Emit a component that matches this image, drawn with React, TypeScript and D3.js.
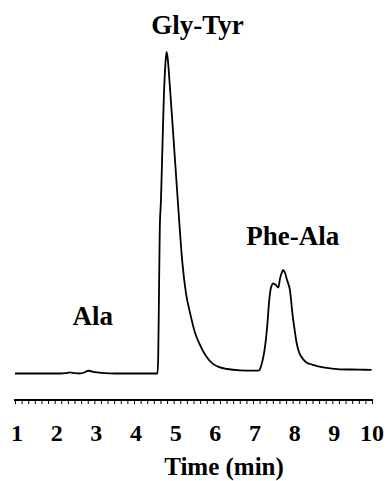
import { useEffect, useRef } from "react";
import * as d3 from "d3";

// chromatogram trace: time (min), detector signal (relative, peak = 100)
const times = [
  1.0, 2.13, 2.28, 2.385, 2.51, 2.64, 2.74, 2.85, 3.02, 3.27, 3.52, 4.59, 4.61, 4.63, 4.65,
  4.68, 4.72, 4.75, 4.79, 4.82, 4.85, 4.9, 4.98, 5.1, 5.22, 5.31, 5.41, 5.53, 5.66, 5.81,
  5.99, 6.15, 6.35, 6.67, 7.05, 7.16, 7.19, 7.24, 7.28, 7.32, 7.36, 7.41, 7.45, 7.51, 7.58,
  7.64, 7.68, 7.73, 7.76, 7.8, 7.86, 7.93, 8.0, 8.05, 8.1, 8.15, 8.22, 8.33, 8.51, 8.81,
  9.19, 9.69, 9.99,
];
const signal = [
  0, 0, 0.1, 0.35, 0.1, 0, 0.3, 0.85, 0.4, 0.1, 0, 0, 5, 25, 45,
  54, 72, 85, 96, 100, 98, 90, 76, 54.5, 34.4, 25, 19, 13, 9, 5.5,
  3.0, 2.0, 1.4, 1.0, 0.9, 1.0, 1.8, 4, 6.5, 10, 15, 22.9, 26.5, 28, 27.5,
  26.7, 29.5, 31.5, 32.2, 31.5, 29, 26, 18, 13.5, 9.5, 7, 5.2, 3.6, 2.7, 1.8,
  1.3, 1.2, 1.1,
];

const tickValues = [1, 2, 3, 4, 5, 6, 7, 8, 9, 10];
const peakNames = ["Ala", "Gly-Tyr", "Phe-Ala"];
const labelTimes = [2.96, 5.6, 8.0];
const labelSignal = [15, 105.5, 40];

export default function App() {
  const svgRef = useRef<SVGSVGElement>(null);

  useEffect(() => {
    const svg = d3.select(svgRef.current);
    svg.selectAll("*").remove();

    const width = 391,
      height = 481;
    const axisY = 400;

    const x = d3.scaleLinear().domain([1, 10]).range([15, 372]);
    const y = d3.scaleLinear().domain([0, 100]).range([373.5, 52]);

    svg.attr("width", width).attr("height", height);

    const data = times.map((t, i) => [t, signal[i]] as [number, number]);
    const line = d3
      .line<[number, number]>()
      .x(d => x(d[0]))
      .y(d => y(d[1]))
      .curve(d3.curveMonotoneX);

    svg
      .append("path")
      .datum(data)
      .attr("d", line)
      .attr("fill", "none")
      .attr("stroke", "#000")
      .attr("stroke-width", 1.8)
      .attr("stroke-linejoin", "round");

    // minor ticks every 10 s
    const minor = d3.range(0, 9 * 6 + 1).map(i => 1 + i / 6);
    const axis = svg
      .append("g")
      .attr("transform", `translate(0,${axisY})`)
      .call(
        d3
          .axisBottom(x)
          .tickValues(minor)
          .tickSize(4)
          .tickSizeOuter(0)
          .tickFormat(() => "")
      );
    axis.select(".domain").attr("stroke-width", 2.2).attr("d", `M${x(1) - 1},0H${x(10) + 1}`);
    axis.selectAll(".tick line").attr("stroke-width", 1);

    svg
      .append("g")
      .selectAll("text")
      .data(tickValues)
      .enter()
      .append("text")
      .attr("x", d => x(d) + (d === 10 ? 0 : 2))
      .attr("y", 441)
      .attr("text-anchor", "middle")
      .attr("font-family", "Liberation Serif, Times New Roman, serif")
      .attr("font-weight", "bold")
      .attr("font-size", 24)
      .text(d => d);

    svg
      .append("text")
      .attr("x", 224)
      .attr("y", 475)
      .attr("text-anchor", "middle")
      .attr("font-family", "Liberation Serif, Times New Roman, serif")
      .attr("font-weight", "bold")
      .attr("font-size", 25)
      .text("Time (min)");

    svg
      .append("g")
      .selectAll("text")
      .data(peakNames)
      .enter()
      .append("text")
      .attr("x", (_, i) => x(labelTimes[i]))
      .attr("y", (_, i) => y(labelSignal[i]))
      .attr("text-anchor", "middle")
      .attr("font-family", "Liberation Serif, Times New Roman, serif")
      .attr("font-weight", "bold")
      .attr("font-size", 27)
      .text(d => d);
  }, []);

  return <svg ref={svgRef} style={{ position: "absolute", left: 0, top: 0 }}></svg>;
}
